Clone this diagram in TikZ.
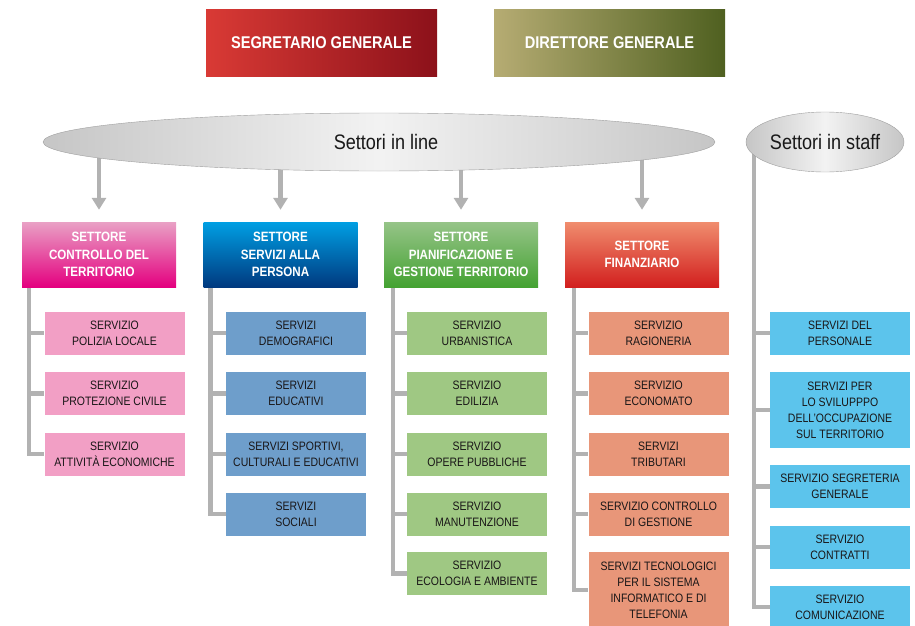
\documentclass[tikz,border=0pt]{standalone}
\usepackage{fontspec}
\setmainfont{Liberation Sans}[FakeStretch=0.86]
\definecolor{segrL}{RGB}{217,58,53}
\definecolor{segrR}{RGB}{140,17,26}
\definecolor{dirL}{RGB}{182,172,115}
\definecolor{dirR}{RGB}{79,96,32}
\definecolor{pinkT}{RGB}{233,161,197}
\definecolor{pinkB}{RGB}{228,0,127}
\definecolor{blueT}{RGB}{0,159,227}
\definecolor{blueB}{RGB}{0,57,127}
\definecolor{greenT}{RGB}{150,196,136}
\definecolor{greenB}{RGB}{68,162,50}
\definecolor{redT}{RGB}{240,141,110}
\definecolor{redB}{RGB}{210,31,30}
\definecolor{pinkS}{RGB}{242,159,197}
\definecolor{blueS}{RGB}{110,158,203}
\definecolor{greenS}{RGB}{159,200,131}
\definecolor{salmonS}{RGB}{232,150,121}
\definecolor{skyS}{RGB}{92,196,236}
\definecolor{linegray}{RGB}{178,178,178}
\definecolor{servtext}{RGB}{25,22,23}
\usetikzlibrary{shapes,arrows.meta,positioning,backgrounds}

\begin{document}
\begin{tikzpicture}[x=1pt, y=-1pt,
    topbox/.style={minimum width=231pt, minimum height=66pt, inner sep=0pt,
        font=\fontsize{17}{20}\selectfont\bfseries, text=white},
    cloud/.style={ellipse, draw=gray!75, inner sep=0pt, left color=gray!45,
        right color=gray!45, middle color=gray!10,
        font=\fontsize{21}{25}\selectfont, text=black!90},
    sector/.style={minimum width=154pt, minimum height=65pt, inner sep=0pt,
        align=center, font=\fontsize{13.5}{17.5}\selectfont\bfseries, text=white},
    service/.style={minimum width=140pt, minimum height=43pt, inner sep=0pt,
        align=center, font=\fontsize{12.2}{16}\selectfont, text=servtext},
    branch/.style={line width=4.5pt, linegray},
    arr/.style={line width=4.5pt, linegray, -{Triangle[width=14pt, length=12pt]}}]
    \useasboundingbox (0,0) rectangle (915,626);

    % Top management
    \node[topbox, left color=segrL, right color=segrR] (segr) at (321.5,43) {SEGRETARIO GENERALE};
    \node[topbox, left color=dirL, right color=dirR] (dir) at (609.5,43) {DIRETTORE GENERALE};

    % Groups of sectors
    \node[cloud, minimum width=672pt, minimum height=58pt] (line) at (379,142) {\hspace*{14pt}Settori in line};
    \node[cloud, minimum width=158pt, minimum height=60pt] (staff) at (825,142) {Settori in staff};

    % Sectors in line
    \node[sector, top color=pinkT, bottom color=pinkB] (h1) at (99,254.5) {SETTORE\\CONTROLLO DEL\\TERRITORIO};
    \node[sector, top color=blueT, bottom color=blueB] (h2) at (280.5,254.5) {SETTORE\\SERVIZI ALLA\\PERSONA};
    \node[sector, top color=greenT, bottom color=greenB] (h3) at (461,254.5) {SETTORE\\PIANIFICAZIONE E\\GESTIONE TERRITORIO};
    \node[sector, top color=redT, bottom color=redB] (h4) at (642,254.5) {SETTORE\\FINANZIARIO};

    % Services of each sector
    \node[service, fill=pinkS] (a1) at (114.5,333) {SERVIZIO\\POLIZIA LOCALE};
    \node[service, fill=pinkS] (a2) at (114.5,393.5) {SERVIZIO\\PROTEZIONE CIVILE};
    \node[service, fill=pinkS] (a3) at (114.5,454) {SERVIZIO\\ATTIVITÀ ECONOMICHE};

    \node[service, fill=blueS] (b1) at (296,333) {SERVIZI\\DEMOGRAFICI};
    \node[service, fill=blueS] (b2) at (296,393.5) {SERVIZI\\EDUCATIVI};
    \node[service, fill=blueS] (b3) at (296,454) {SERVIZI SPORTIVI,\\CULTURALI E EDUCATIVI};
    \node[service, fill=blueS] (b4) at (296,514) {SERVIZI\\SOCIALI};

    \node[service, fill=greenS] (c1) at (477,333) {SERVIZIO\\URBANISTICA};
    \node[service, fill=greenS] (c2) at (477,393.5) {SERVIZIO\\EDILIZIA};
    \node[service, fill=greenS] (c3) at (477,454) {SERVIZIO\\OPERE PUBBLICHE};
    \node[service, fill=greenS] (c4) at (477,514) {SERVIZIO\\MANUTENZIONE};
    \node[service, fill=greenS] (c5) at (477,573.5) {SERVIZIO\\ECOLOGIA E AMBIENTE};

    \node[service, fill=salmonS] (d1) at (658.5,333) {SERVIZIO\\RAGIONERIA};
    \node[service, fill=salmonS] (d2) at (658.5,393.5) {SERVIZIO\\ECONOMATO};
    \node[service, fill=salmonS] (d3) at (658.5,454) {SERVIZI\\TRIBUTARI};
    \node[service, fill=salmonS] (d4) at (658.5,514) {SERVIZIO CONTROLLO\\DI GESTIONE};
    \node[service, fill=salmonS, minimum height=76pt] (d5) at (658.5,590) {SERVIZI TECNOLOGICI\\PER IL SISTEMA\\INFORMATICO E DI\\TELEFONIA};

    % Services in staff
    \node[service, fill=skyS] (e1) at (840,333) {SERVIZI DEL\\PERSONALE};
    \node[service, fill=skyS, minimum height=76pt] (e2) at (840,410) {SERVIZI PER\\LO SVILUPPPO\\DELL'OCCUPAZIONE\\SUL TERRITORIO};
    \node[service, fill=skyS] (e3) at (840,486.5) {SERVIZIO SEGRETERIA\\GENERALE};
    \node[service, fill=skyS] (e4) at (840,547) {SERVIZIO\\CONTRATTI};
    \node[service, fill=skyS] (e5) at (840,607) {SERVIZIO\\COMUNICAZIONE};

    % Connectors behind the boxes
    \begin{scope}[on background layer]
        \draw[arr] (h1.north |- line.center) -- ([yshift=12pt]h1.north);
        \draw[arr] (h2.north |- line.center) -- ([yshift=12pt]h2.north);
        \draw[arr] (h3.north |- line.center) -- ([yshift=12pt]h3.north);
        \draw[arr] (h4.north |- line.center) -- ([yshift=12pt]h4.north);
        \foreach \c in {a1,a2,a3} \draw[branch] ([xshift=7pt]h1.south west) |- (\c.west);
        \foreach \c in {b1,b2,b3,b4} \draw[branch] ([xshift=7pt]h2.south west) |- (\c.west);
        \foreach \c in {c1,c2,c3,c4,c5} \draw[branch] ([xshift=9pt]h3.south west) |- (\c.west);
        \foreach \c in {d1,d2,d3,d4,d5} \draw[branch] ([xshift=9pt]h4.south west) |- (\c.west);
        \foreach \c in {e1,e2,e3,e4,e5} \draw[branch] ([xshift=8pt]staff.west) |- (\c.west);
    \end{scope}
\end{tikzpicture}
\end{document}
